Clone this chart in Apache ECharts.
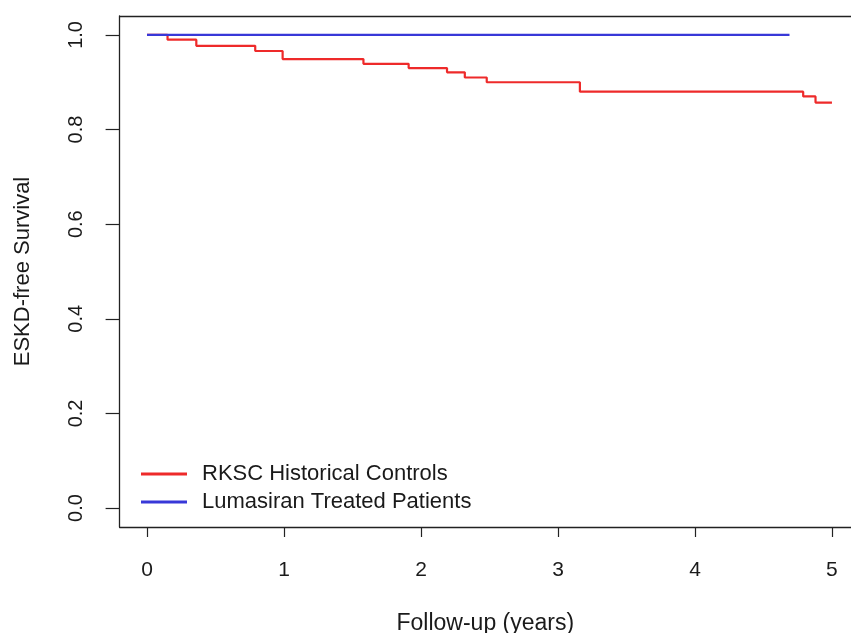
<!DOCTYPE html>
<html>
<head>
<meta charset="utf-8">
<script src="https://cdn.jsdelivr.net/npm/echarts@6/dist/echarts.min.js"></script>
<style>
html,body{margin:0;padding:0;background:#fff;overflow:hidden;}
#chart{width:851px;height:633px;}
</style>
</head>
<body>
<div id="chart"></div>
<script>
// Data
const seriesNames = ['RKSC Historical Controls', 'Lumasiran Treated Patients'];
const controlTimes = [0, 0.15, 0.36, 0.79, 0.99, 1.58, 1.91, 2.19, 2.32, 2.48, 3.16, 4.79, 4.88, 5.0];
const controlSurv  = [1, 0.99, 0.977, 0.966, 0.949, 0.939, 0.930, 0.921, 0.910, 0.900, 0.880, 0.870, 0.857, 0.857];
const treatedTimes = [0, 4.69];
const treatedSurv  = [1, 1];
const xTicks = [0, 1, 2, 3, 4, 5];
const yTicks = [0, 0.2, 0.4, 0.6, 0.8, 1.0];

const FONT = '"Liberation Sans", Arial, Helvetica, sans-serif';
const TXT = '#1a1a1a';
const RED = '#ee2a2a';
const BLUE = '#3838d8';
const AX = {color: '#222', width: 1.3};

const chart = echarts.init(document.getElementById('chart'));
chart.setOption({
  animation: false,
  backgroundColor: '#fff',
  textStyle: {fontFamily: FONT},
  grid: {left: 119.6, right: 0, top: 16, bottom: 106, show: false, containLabel: false, outerBoundsMode: 'none'},
  legend: {
    left: 136, top: 458, orient: 'vertical', itemGap: 6,
    itemWidth: 46, itemHeight: 3, icon: 'rect',
    textStyle: {fontFamily: FONT, fontSize: 22, color: TXT, padding: [0, 0, 0, 10]},
    data: [{name: seriesNames[0], itemStyle: {color: RED}}, {name: seriesNames[1], itemStyle: {color: BLUE}}]
  },
  xAxis: [{
    type: 'value', min: -0.2, max: 5.139, position: 'bottom',
    name: 'Follow-up (years)', nameLocation: 'middle', nameGap: 85,
    nameTextStyle: {fontFamily: FONT, fontSize: 23, color: TXT},
    axisLine: {show: true, onZero: false, lineStyle: AX},
    axisTick: {show: true, length: 10, customValues: xTicks, lineStyle: {color: '#222', width: 1.2}},
    axisLabel: {customValues: xTicks, margin: 33, fontFamily: FONT, fontSize: 21, color: TXT, formatter: v => String(v)},
    splitLine: {show: false}
  }, {
    type: 'value', min: -0.2, max: 5.139, position: 'top',
    axisLine: {show: true, onZero: false, lineStyle: AX},
    axisTick: {show: false}, axisLabel: {show: false}, splitLine: {show: false}
  }],
  yAxis: {
    type: 'value', min: -0.04, max: 1.04,
    name: 'ESKD-free Survival', nameLocation: 'middle', nameGap: 86,
    nameTextStyle: {fontFamily: FONT, fontSize: 22, color: TXT},
    axisLine: {show: true, onZero: false, lineStyle: AX},
    axisTick: {show: true, length: 14, customValues: yTicks, lineStyle: {color: '#222', width: 1.2}},
    axisLabel: {customValues: yTicks, margin: 33, rotate: 90, fontFamily: FONT, fontSize: 20, color: TXT, formatter: v => v.toFixed(1)},
    splitLine: {show: false}
  },
  series: [
    {
      name: seriesNames[0], type: 'line', step: 'end', showSymbol: false, symbol: 'none',
      lineStyle: {color: RED, width: 2.2}, itemStyle: {color: RED},
      data: controlTimes.map((t, i) => [t, controlSurv[i]]), z: 2
    },
    {
      name: seriesNames[1], type: 'line', step: 'end', showSymbol: false, symbol: 'none',
      lineStyle: {color: BLUE, width: 2.2}, itemStyle: {color: BLUE},
      data: treatedTimes.map((t, i) => [t, treatedSurv[i]]), z: 3
    }
  ]
});
</script>
</body>
</html>
